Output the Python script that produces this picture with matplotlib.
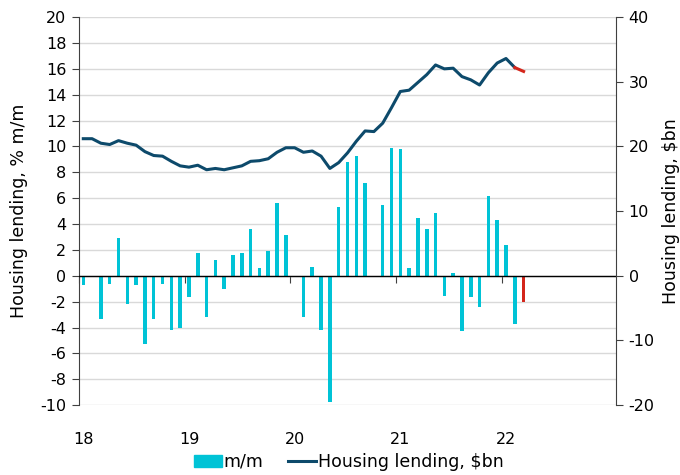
import matplotlib
matplotlib.use("Agg")
import matplotlib.pyplot as plt
import numpy as np
from matplotlib.patches import Patch
from matplotlib.lines import Line2D

# Months Jan-2018 .. Mar-2022
months = [f"{y}-{m:02d}" for y in range(2018, 2023) for m in range(1, 13)][:51]

mm_change = [-0.7, 0.0, -3.3, -0.6, 2.9, -2.2, -0.7, -5.3, -3.35, -0.6, -4.2, -4.05,
             -1.65, 1.8, -3.15, 1.2, -1.05, 1.6, 1.75, 3.6, 0.6, 1.95, 5.6, 3.15,
             -0.1, -3.2, 0.7, -4.15, -9.75, 5.3, 8.8, 9.3, 7.2, -0.05, 5.5, 9.85,
             9.8, 0.6, 4.5, 3.65, 4.85, -1.55, 0.2, -4.25, -1.6, -2.4, 6.2, 4.3,
             2.4, -3.7, -2.05]

lending_bn = [21.2, 21.2, 20.5, 20.3, 20.9, 20.5, 20.2, 19.2, 18.6, 18.5, 17.7, 17.0,
              16.8, 17.1, 16.4, 16.6, 16.4, 16.7, 17.0, 17.7, 17.8, 18.1, 19.1, 19.8,
              19.8, 19.1, 19.3, 18.5, 16.6, 17.5, 19.0, 20.8, 22.4, 22.3, 23.6, 26.0,
              28.5, 28.7, 29.9, 31.1, 32.6, 32.0, 32.1, 30.8, 30.3, 29.5, 31.4, 32.9,
              33.6, 32.2, 31.6]

year_labels = ["18", "19", "20", "21", "22"]

CYAN = "#00C3D6"
NAVY = "#0D4A6B"
RED = "#D4261B"
GRID = "#D9D9D9"
SPINE = "#404040"

plt.rcParams['font.family'] = ['DejaVu Sans']
plt.rcParams['axes.unicode_minus'] = False

TICK_FS = 11.5
LABEL_FS = 12.5

fig = plt.figure(figsize=(6.8, 4.75), dpi=100)
ax = fig.add_axes([0.116, 0.147, 0.790, 0.817])
ax2 = ax.twinx()

x = np.arange(len(mm_change))
bar_colors = [CYAN] * (len(mm_change) - 1) + [RED]
ax.bar(x, mm_change, width=0.4, color=bar_colors, zorder=3)

ax.set_xlim(-0.5, 60.5)
ax.set_ylim(-10, 20)
ax.set_yticks(np.arange(-10, 21, 2))
ax.grid(axis='y', color=GRID, linewidth=1, zorder=0)
ax.set_axisbelow(True)
ax.axhline(0, color='black', linewidth=1, zorder=4)

ax.set_xticks([0, 12, 24, 36, 48])
ax.set_xticklabels(year_labels)
ax.tick_params(axis='x', length=0, pad=19, labelsize=TICK_FS)
ax.tick_params(axis='y', direction='out', length=5, color=SPINE, labelsize=TICK_FS, pad=4)
for s in ['top', 'right', 'bottom']:
    ax.spines[s].set_visible(False)
ax.spines['left'].set_color(SPINE)
ax.set_ylabel("Housing lending, % m/m", fontsize=LABEL_FS, labelpad=9)

# tick marks on the zero line at year boundaries
sec = ax.secondary_xaxis(1/3)
sec.set_xticks([-0.5, 11.5, 23.5, 35.5, 47.5])
sec.set_xticklabels([])
sec.tick_params(direction='out', length=5, color=SPINE)
sec.spines['bottom'].set_visible(False)

# line on right axis
ax2.plot(x[:-1], lending_bn[:-1], color=NAVY, linewidth=2.2, zorder=5,
         solid_joinstyle='round')
ax2.plot(x[-2:], lending_bn[-2:], color=RED, linewidth=2.2, zorder=5)
ax2.set_ylim(-20, 40)
ax2.set_yticks(np.arange(-20, 41, 10))
ax2.tick_params(axis='y', direction='out', length=5, color=SPINE, labelsize=TICK_FS, pad=4)
for s in ['top', 'left', 'bottom']:
    ax2.spines[s].set_visible(False)
ax2.spines['right'].set_color(SPINE)
ax2.set_ylabel("Housing lending, $bn", fontsize=LABEL_FS, labelpad=5)

handles = [Patch(color=CYAN, label="m/m"),
           Line2D([0], [0], color=NAVY, linewidth=2.2, label="Housing lending, $bn")]
fig.legend(handles=handles, loc='center', bbox_to_anchor=(0.513, 0.028), ncol=2,
           frameon=False, fontsize=12.5, handlelength=1.6, handletextpad=0.1,
           columnspacing=1.4)

fig.savefig("out.png", dpi=100)
